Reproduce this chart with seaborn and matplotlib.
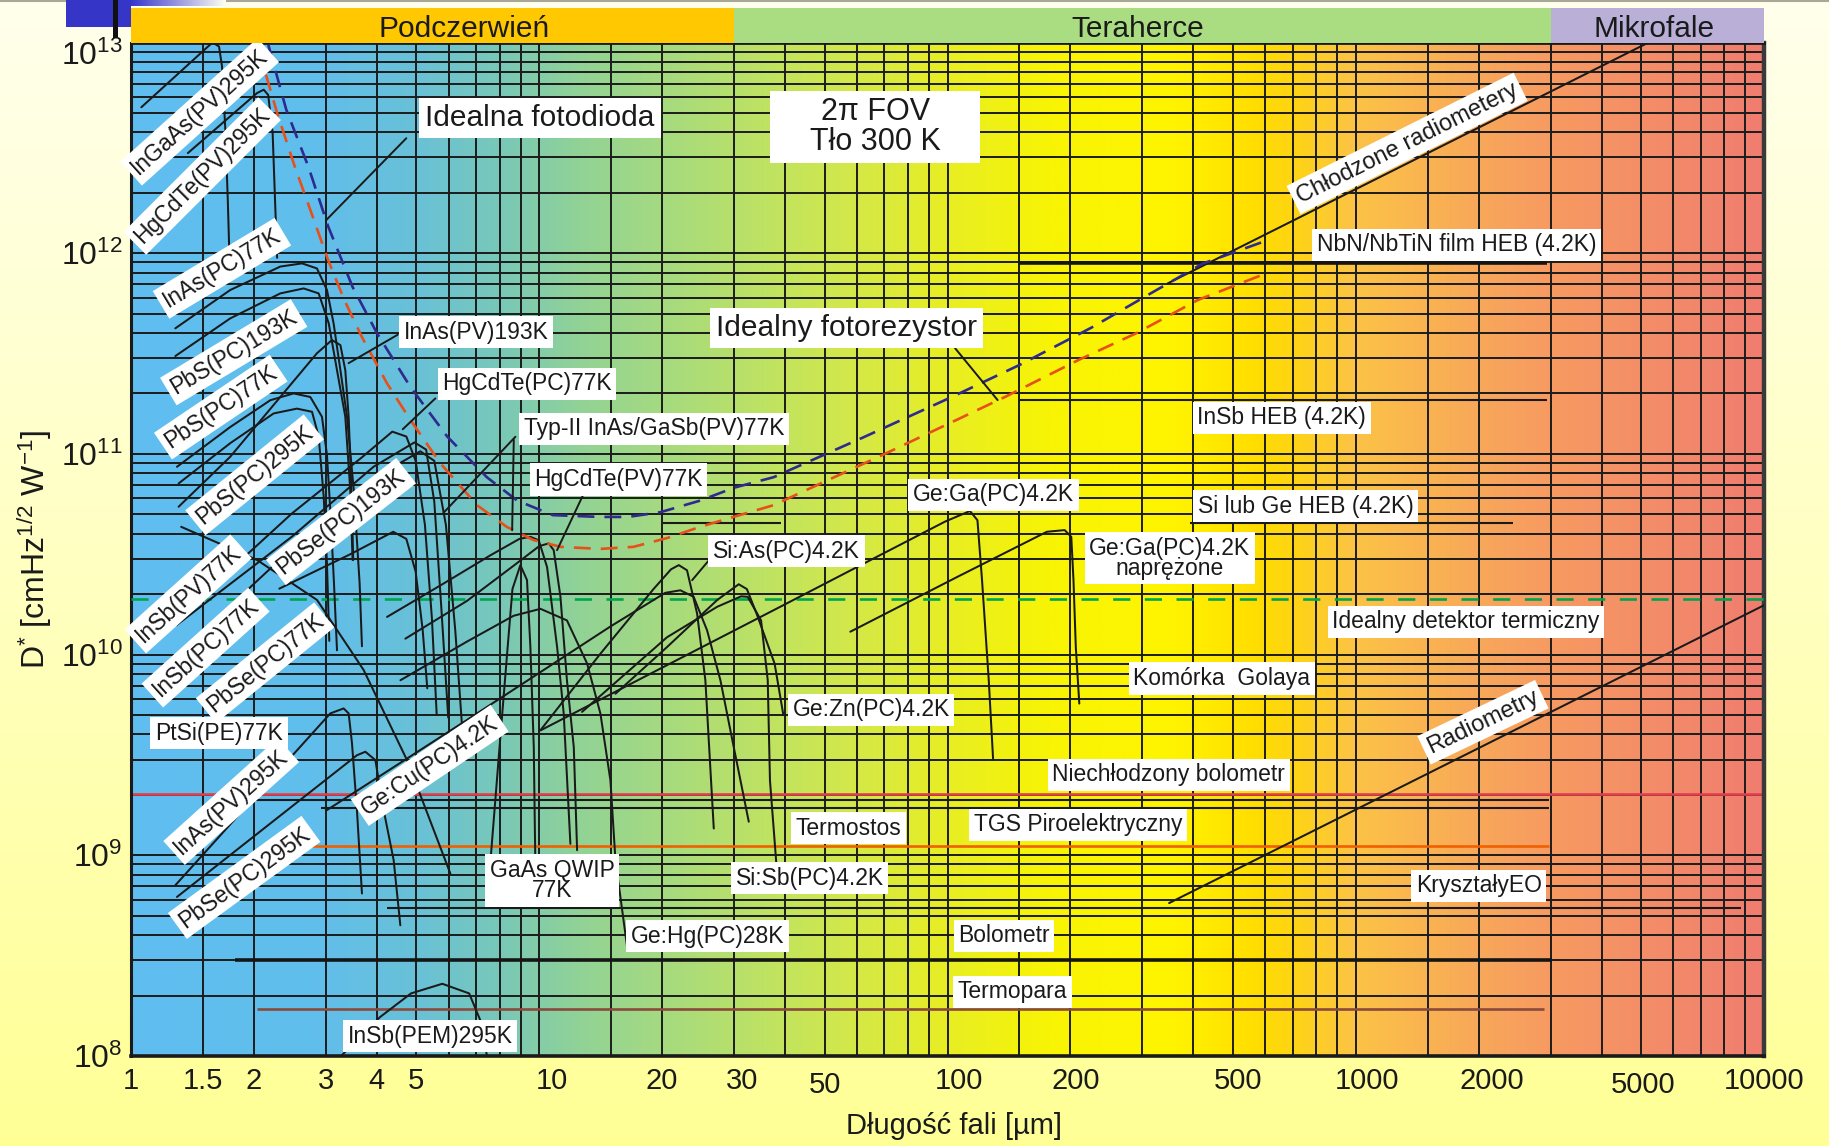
import numpy as np
import pandas as pd
import matplotlib
matplotlib.use("Agg")
import matplotlib.pyplot as plt
from matplotlib.patches import Rectangle
from matplotlib.lines import Line2D
from matplotlib.ticker import FixedLocator, FixedFormatter, NullFormatter
import matplotlib.transforms as mtransforms
import seaborn as sns

# ------------------------------------------------------------------
# Detector curves: (wavelength [um], D* [cm Hz^1/2 W^-1])
# ------------------------------------------------------------------
INGAAS_PV_295K = [(1.06, 5.33e12), (1.544, 1.07e13), (1.585, 1.12e13), (1.643, 1.07e13),
                  (1.671, 8.51e12), (1.704, 3.97e12), (1.726, 1.85e12), (1.749, 7.35e11)]
HGCDTE_PV_295K = [(1.378, 3.15e12), (2.035, 6.27e12), (2.114, 6.52e12), (2.168, 6.14e12),
                  (2.223, 3.97e12), (2.253, 1.85e12), (2.28, 9.48e11)]
INAS_PC_77K = [(1.284, 4.22e11), (1.75, 6.55e11), (2.321, 8.57e11), (2.624, 8.89e11),
               (2.854, 8.39e11), (3.02, 6.55e11), (3.135, 4.47e11), (3.258, 2.61e11),
               (3.382, 1.53e11), (3.513, 6.61e10), (3.631, 2.26e10), (3.679, 1.10e10)]
PBS_PC_193K = [(1.284, 3.07e11), (1.75, 4.73e11), (2.321, 6.30e11), (2.648, 6.67e11),
               (2.882, 6.30e11), (3.05, 4.47e11), (3.196, 2.61e11), (3.349, 1.53e11),
               (3.444, 6.61e10), (3.49, 2.96e10)]
INAS_PV_193K = [(1.308, 5.45e10), (1.75, 9.67e10), (2.321, 1.92e11), (2.854, 3.17e11),
                (3.106, 3.69e11), (3.258, 3.48e11), (3.349, 2.61e11), (3.413, 1.53e11),
                (3.467, 6.61e10), (3.502, 2.96e10)]
PBS_PC_77K = [(1.296, 8.62e10), (1.75, 1.36e11), (2.194, 1.85e11), (2.502, 2.00e11),
              (2.749, 1.92e11), (2.936, 1.53e11), (3.02, 9.87e10), (3.081, 5.05e10),
              (3.142, 2.26e10), (3.196, 1.05e10)]
PBS_PC_295K = [(1.308, 7.12e10), (1.75, 1.13e11), (2.236, 1.59e11), (2.55, 1.68e11),
               (2.776, 1.62e11), (2.882, 1.22e11), (2.965, 6.11e10), (3.02, 2.84e10),
               (3.06, 1.17e10)]
INSB_PV_77K = [(1.31, 1.54e10), (2.479, 5.05e10), (3.679, 9.61e10), (4.365, 1.29e11),
               (4.725, 1.22e11), (4.98, 9.23e10), (5.248, 4.42e10), (5.459, 1.51e10),
               (5.607, 5.05e9)]
INSB_PC_77K = [(1.292, 1.40e10), (2.479, 3.87e10), (3.929, 8.63e10), (4.947, 1.14e11),
               (5.283, 1.05e11), (5.532, 5.78e10), (5.754, 1.73e10), (5.985, 4.85e9)]
PBSE_PC_77K = [(1.31, 1.01e10), (2.479, 3.38e10), (3.929, 7.55e10), (5.112, 1.03e11),
               (5.532, 9.23e10), (5.907, 4.42e10), (6.227, 1.32e10), (6.478, 4.25e9)]
PBSE_PC_193K = [(2.308, 2.13e10), (3.444, 3.16e10), (4.388, 4.09e10), (4.725, 3.77e10),
                (4.98, 2.59e10), (5.181, 1.33e10), (5.318, 6.79e9)]
HGCDTE_PC_77K = [(4.238, 1.54e10), (5.832, 2.26e10), (7.586, 3.12e10), (8.942, 3.77e10),
                 (9.512, 3.86e10), (9.97, 3.71e10), (10.45, 2.73e10), (11.06, 1.09e10),
                 (11.48, 5.08e9), (11.92, 1.14e9)]
HGCDTE_PV_77K = [(4.699, 1.20e10), (6.65, 1.85e10), (8.651, 2.77e10), (10.0, 3.47e10),
                 (10.55, 3.58e10), (10.85, 3.31e10), (11.27, 1.94e10), (11.69, 7.45e9),
                 (12.15, 3.46e9), (12.38, 1.06e9)]
GAAS_QWIP_77K = [(7.586, 9.10e8), (7.995, 3.47e9), (8.342, 1.01e10), (8.597, 2.12e10),
                 (8.989, 2.79e10), (9.333, 2.35e10), (9.512, 1.09e10), (9.696, 3.46e9),
                 (9.779, 9.48e8)]
GEHG_PC_28K = [(4.571, 7.45e9), (6.65, 1.16e10), (8.651, 1.56e10), (10.07, 1.69e10),
               (11.69, 1.48e10), (13.1, 9.02e9), (14.12, 5.08e9), (14.94, 2.36e9),
               (15.37, 9.43e8), (16.46, 3.36e8)]
GECU_PC_4K = [(3.02, 1.68e9), (6.65, 4.72e9), (14.94, 1.38e10), (20.35, 2.03e10),
              (22.16, 2.09e10), (23.89, 1.94e10), (25.77, 1.32e10), (27.78, 7.45e9),
              (29.95, 3.46e9), (32.6, 1.47e9)]
SIAS_PC_4K = [(10.07, 4.20e9), (14.12, 1.01e10), (19.05, 2.12e10), (21.03, 2.66e10),
              (21.97, 2.79e10), (23.01, 2.63e10), (24.36, 1.60e10), (25.52, 7.45e9),
              (26.76, 1.36e9)]
GEZN_PC_4K = [(15.37, 6.38e9), (20.56, 1.09e10), (27.28, 1.87e10), (30.8, 2.24e10),
              (32.25, 2.12e10), (34.07, 1.60e10), (37.71, 9.02e9), (39.63, 4.99e9)]
SISB_PC_4K = [(12.73, 5.18e9), (20.56, 1.22e10), (27.28, 1.73e10), (31.21, 1.95e10),
              (32.4, 1.94e10), (34.94, 1.48e10), (36.28, 7.45e9), (36.74, 2.36e9),
              (38.14, 8.75e8)]
GEGA_PC_4K = [(10.07, 4.19e9), (38.93, 1.73e10), (66.51, 3.04e10), (98.7, 4.60e10),
              (113.5, 5.19e10), (118.4, 4.67e10), (121.5, 2.35e10), (126.2, 7.45e9),
              (129.3, 3.04e9)]
GEGA_STRESSED_4K = [(57.81, 1.30e10), (105.8, 2.44e10), (175.1, 4.09e10), (193.6, 4.17e10),
                    (201.0, 3.86e10), (203.5, 2.35e10), (206.2, 1.09e10), (210.3, 5.70e9)]
INAS_PV_295K = [(1.284, 7.09e8), (3.077, 5.09e9), (3.318, 5.39e9), (3.413, 5.09e9),
                (3.478, 3.61e9), (3.576, 1.68e9), (3.679, 6.45e8)]
PBSE_PC_295K = [(1.296, 6.20e8), (3.576, 3.15e9), (3.75, 3.28e9), (3.968, 2.98e9),
                (4.158, 1.68e9), (4.399, 9.46e8), (4.568, 4.48e8)]
PTSI_PE_77K = [(1.327, 4.33e10), (2.035, 2.96e10), (2.856, 1.87e10), (3.715, 8.37e9),
               (4.743, 2.98e9), (6.058, 8.10e8)]
INSB_PEM_295K = [(3.286, 1.01e8), (4.069, 1.56e8), (4.85, 2.05e8), (5.788, 2.29e8),
                 (6.735, 2.05e8), (7.168, 1.51e8), (7.441, 1.01e8)]

# Straight-line detectors
COOLED_RADIOMETERS = [(346, 7.06e11), (5212, 1.12e13)]
RADIOMETERS = [(349, 5.78e8), (10000, 1.76e10)]

# Background-limited ideal detectors (2pi FOV, 300 K)
IDEAL_PHOTODIODE = [(2.17, 1.09e13), (2.40, 5.19e12), (2.72, 2.69e12), (3.04, 1.36e12),
                    (3.49, 6.78e11), (4.01, 3.97e11), (4.83, 2.16e11), (5.95, 1.22e11),
                    (7.44, 7.65e10), (8.83, 5.85e10), (10.8, 4.95e10), (14.1, 4.85e10),
                    (16.5, 4.85e10), (19.8, 5.12e10), (24.8, 5.85e10), (30.0, 6.78e10),
                    (37.5, 7.65e10), (62.3, 1.21e11), (103, 1.93e11), (150, 2.77e11),
                    (225, 4.25e11), (320, 6.43e11), (422, 8.87e11), (587, 1.13e12)]
IDEAL_PHOTORESISTOR = [(2.14, 7.76e12), (2.28, 4.99e12), (2.52, 2.69e12), (2.79, 1.51e12),
                       (3.04, 9.23e11), (3.33, 5.85e11), (3.68, 3.81e11), (4.24, 2.24e11),
                       (4.83, 1.48e11), (5.72, 8.99e10), (7.04, 5.55e10), (8.32, 4.33e10),
                       (9.68, 3.72e10), (11.3, 3.44e10), (14.1, 3.36e10), (17.0, 3.44e10),
                       (20.6, 3.81e10), (24.8, 4.33e10), (29.9, 4.85e10), (37.5, 5.55e10),
                       (71.0, 1.01e11), (139, 1.93e11), (209, 2.93e11), (290, 3.99e11),
                       (411, 5.85e11), (587, 7.76e11)]
IDEAL_THERMAL_D = 1.9e10

# Flat-response (thermal and HEB) detectors: level and spectral span
LEVEL_NAMES = ["NbN/NbTiN HEB", "InSb HEB", "Si/Ge HEB", "Si/Ge HEB short",
               "Niechlodzony bolometr", "bolometr", "Termostos", "TGS",
               "Krysztaly EO", "Bolometr", "Termopara"]
LEVEL_D = [8.9e11, 1.85e11, 4.5e10, 4.5e10, 2.03e9, 1.89e9, 1.72e9, 1.11e9, 5.47e8, 3.0e8, 1.71e8]
LEVEL_WL_FROM = [150, 150, 393, 20.1, 1, 1.98, 2.92, 2.65, 4.23, 1.80, 2.04]
LEVEL_WL_TO = [2944, 2944, 2432, 39, 10000, 2980, 2980, 2980, 8790, 3030, 2897]

# Spectral bands on top
BAND_NAMES = ["Podczerwień", "Teraherce", "Mikrofale"]
BAND_EDGES = [1, 30, 3000, 10000]

XTICKS = [1, 1.5, 2, 3, 4, 5, 10, 20, 30, 50, 100, 200, 500, 1000, 2000, 5000, 10000]
XTICK_LABELS = ["1", "1.5", "2", "3", "4", "5", "10", "20", "30", "50", "100", "200",
                "500", "1000", "2000", "5000", "10000"]
YTICKS = [1e8, 1e9, 1e10, 1e11, 1e12, 1e13]
YTICK_LABELS = [r"$10^{8}$", r"$10^{9}$", r"$10^{10}$", r"$10^{11}$", r"$10^{12}$", r"$10^{13}$"]

DETECTOR_CURVES = {
    "InGaAs(PV)295K": INGAAS_PV_295K, "HgCdTe(PV)295K": HGCDTE_PV_295K,
    "InAs(PC)77K": INAS_PC_77K, "PbS(PC)193K": PBS_PC_193K, "InAs(PV)193K": INAS_PV_193K,
    "PbS(PC)77K": PBS_PC_77K, "PbS(PC)295K": PBS_PC_295K, "InSb(PV)77K": INSB_PV_77K,
    "InSb(PC)77K": INSB_PC_77K, "PbSe(PC)77K": PBSE_PC_77K, "PbSe(PC)193K": PBSE_PC_193K,
    "HgCdTe(PC)77K": HGCDTE_PC_77K, "HgCdTe(PV)77K": HGCDTE_PV_77K,
    "GaAs QWIP 77K": GAAS_QWIP_77K, "Ge:Hg(PC)28K": GEHG_PC_28K, "Ge:Cu(PC)4.2K": GECU_PC_4K,
    "Si:As(PC)4.2K": SIAS_PC_4K, "Ge:Zn(PC)4.2K": GEZN_PC_4K, "Si:Sb(PC)4.2K": SISB_PC_4K,
    "Ge:Ga(PC)4.2K": GEGA_PC_4K, "Ge:Ga(PC)4.2K stressed": GEGA_STRESSED_4K,
    "InAs(PV)295K": INAS_PV_295K, "PbSe(PC)295K": PBSE_PC_295K, "PtSi(PE)77K": PTSI_PE_77K,
    "InSb(PEM)295K": INSB_PEM_295K, "Chlodzone radiometery": COOLED_RADIOMETERS,
    "Radiometry": RADIOMETERS,
}

# ------------------------------------------------------------------
sns.set_theme(style="white")
FONT = ["Liberation Sans", "DejaVu Sans"]
plt.rcParams["font.family"] = FONT
plt.rcParams["mathtext.fontset"] = "custom"
plt.rcParams["mathtext.rm"] = "Liberation Sans"
plt.rcParams["mathtext.it"] = "Liberation Sans:italic"
plt.rcParams["mathtext.bf"] = "Liberation Sans:bold"
INK = "#1a1a1a"

W, H = 1829, 1146
fig = plt.figure(figsize=(W / 100, H / 100), dpi=100)

# pale yellow page behind everything
page = fig.add_axes([0, 0, 1, 1], zorder=-10)
page.axis("off")
t = np.linspace(0, 1, 256)[:, None]
top_c = np.array([255, 255, 236]) / 255
bot_c = np.array([255, 255, 150]) / 255
page.imshow((top_c * (1 - t) + bot_c * t)[:, None, :], aspect="auto", extent=[0, 1, 0, 1])

L, R = 131 / W, 1764 / W
B, T = 1 - 1056 / H, 1 - 43 / H
rect = [L, B, R - L, T - B]

# spectral colour wash inside the plotting area (position = log10 wavelength)
wash = fig.add_axes(rect, zorder=0)
wash.axis("off")
stop_u = [0.0, 0.45, 0.7, 0.9, 1.1, 1.3, 1.5, 1.75, 2.0, 2.25, 2.55, 2.75, 2.85, 3.0, 3.3, 3.47, 4.0]
stop_rgb = [(95, 190, 240), (97, 190, 236), (105, 193, 215), (120, 200, 185), (145, 210, 150),
            (165, 218, 128), (185, 225, 105), (210, 232, 75), (232, 238, 35), (248, 244, 5),
            (255, 244, 0), (255, 222, 0), (254, 212, 20), (252, 195, 70), (248, 168, 90),
            (247, 155, 97), (240, 125, 112)]
uu = np.linspace(0, 4, 1000)
cols = np.stack([np.interp(uu, stop_u, [c[i] for c in stop_rgb]) for i in range(3)], axis=-1) / 255
wash.imshow(cols[None, :, :], aspect="auto", extent=[0, 1, 0, 1])
wash.set_xlim(0, 1)
wash.set_ylim(0, 1)

ax = fig.add_axes(rect, zorder=1)
ax.patch.set_alpha(0)
ax.set_xscale("log")
ax.set_yscale("log")
ax.set_xlim(1, 1e4)
ax.set_ylim(1e8, 1.114e13)

xgrid = [m * 10 ** e for e in range(0, 4) for m in (1, 1.5, 2, 3, 4, 5, 6, 7, 8, 9)] + [1e4]
ygrid = [m * 10 ** e for e in range(8, 13) for m in range(1, 10)] + [1e13]
ax.xaxis.set_major_locator(FixedLocator(XTICKS))
ax.xaxis.set_major_formatter(FixedFormatter(XTICK_LABELS))
ax.xaxis.set_minor_locator(FixedLocator(xgrid))
ax.xaxis.set_minor_formatter(NullFormatter())
ax.yaxis.set_major_locator(FixedLocator(YTICKS))
ax.yaxis.set_major_formatter(FixedFormatter(YTICK_LABELS))
ax.yaxis.set_minor_locator(FixedLocator(ygrid))
ax.yaxis.set_minor_formatter(NullFormatter())
ax.grid(which="both", color="#1c1c1c", lw=1.4)
ax.set_axisbelow(True)
ax.tick_params(which="both", length=0)
ax.tick_params(axis="x", labelsize=21, pad=8, labelcolor=INK)
ax.tick_params(axis="y", labelsize=23, pad=6, labelcolor=INK)
for side, lw, c in (("left", 2.2, INK), ("bottom", 2.6, INK), ("right", 3.2, "#3a3a3a"), ("top", 2.0, INK)):
    ax.spines[side].set_visible(True)
    ax.spines[side].set_linewidth(lw)
    ax.spines[side].set_color(c)

# some wavelength labels sit slightly off their grid line
label_shift_px = {"10": (13, 0), "30": (8, 0), "50": (0, -4), "100": (11, 0), "200": (5, 0),
                  "500": (5, 0), "1000": (11, 0), "2000": (13, 0), "5000": (2, -4)}
fig.canvas.draw()
for lab in ax.get_xticklabels():
    dx, dy = label_shift_px.get(lab.get_text(), (0, 0))
    if dx or dy:
        lab.set_transform(lab.get_transform() +
                          mtransforms.ScaledTranslation(dx / 100, dy / 100, fig.dpi_scale_trans))

# flat-response detector levels
level_style = {
    "Niechlodzony bolometr": dict(color="#E0404E", lw=1.9),
    "TGS": dict(color="#F06000", lw=1.9),
    "Termopara": dict(color="#8A4A3C", lw=1.9),
    "Bolometr": dict(color="#151515", lw=2.6),
    "NbN/NbTiN HEB": dict(color="#151515", lw=2.6),
}
for name, d, a, b in zip(LEVEL_NAMES, LEVEL_D, LEVEL_WL_FROM, LEVEL_WL_TO):
    st = level_style.get(name, dict(color=INK, lw=1.5))
    ax.hlines(d, a, b, zorder=2, **st)
ax.hlines(IDEAL_THERMAL_D, 1, 1e4, color="#00A550", lw=1.9, linestyles=(0, (6.5, 5.5)), zorder=3)

# detector curves
rows = [(name, wl, d) for name, pts in DETECTOR_CURVES.items() for wl, d in pts]
curves = pd.DataFrame(rows, columns=["detector", "wl", "d"])
sns.lineplot(data=curves, x="wl", y="d", units="detector", estimator=None, sort=False,
             color=INK, lw=1.45, legend=False, ax=ax, zorder=3)

ideal_pd = pd.DataFrame(IDEAL_PHOTODIODE, columns=["wl", "d"])
ideal_pr = pd.DataFrame(IDEAL_PHOTORESISTOR, columns=["wl", "d"])
sns.lineplot(data=ideal_pd, x="wl", y="d", sort=False, color="#2E2A8E", lw=1.9,
             linestyle=(0, (6.4, 3.8)), ax=ax, zorder=4)
sns.lineplot(data=ideal_pr, x="wl", y="d", sort=False, color="#E8501A", lw=1.9,
             linestyle=(0, (6.4, 3.8)), ax=ax, zorder=4)
ax.set_xlabel("")
ax.set_ylabel("")

# pointer lines from the captions (axes fractions)
pointers = [((0.1686, 0.906), (0.1196, 0.8253)),
            ((0.1633, 0.712), (0.1332, 0.6839)),
            ((0.1864, 0.6492), (0.1664, 0.6187)),
            ((0.2354, 0.6113), (0.1914, 0.5363)),
            ((0.2344, 0.6083), (0.2334, 0.5191)),
            ((0.2783, 0.5588), (0.2609, 0.4993)),
            ((0.3548, 0.4911), (0.3436, 0.4697)),
            ((0.5047, 0.6986), (0.5307, 0.6475))]
for (x0, y0), (x1, y1) in pointers:
    ax.plot([x0, x1], [y0, y1], transform=ax.transAxes, color=INK, lw=1.4, zorder=4)

BOX = dict(boxstyle="square,pad=0.2", fc="white", ec="none")


def caption(text, fx, fy, size=16.5, rot=0, box=BOX, **kw):
    ax.text(fx, fy, text, transform=ax.transAxes, fontsize=size, rotation=rot,
            rotation_mode="anchor", ha="center", va="center", color=INK,
            bbox=box, zorder=6, **kw)


caption("Idealna fotodioda", 0.2504, 0.9263, size=21.5)
ax.add_patch(Rectangle((0.3914, 0.8813), 0.1286, 0.0715, transform=ax.transAxes,
                       fc="white", ec="none", zorder=5.5))
caption("2π FOV\nTło 300 K", 0.4557, 0.917, size=22, linespacing=1.0, box=None)
caption("Idealny fotorezystor", 0.4379, 0.7189, size=21.5)
caption("InAs(PV)193K", 0.2114, 0.7143)
caption("HgCdTe(PC)77K", 0.2425, 0.6636)
caption("Typ-II InAs/GaSb(PV)77K", 0.3204, 0.6192)
caption("HgCdTe(PV)77K", 0.2986, 0.5691)
caption("Ge:Ga(PC)4.2K", 0.5282, 0.5541)
caption("Si:As(PC)4.2K", 0.4014, 0.4983)
caption("Ge:Ga(PC)4.2K\nnaprężone", 0.6361, 0.4914, linespacing=0.85)
caption("NbN/NbTiN film HEB (4.2K)", 0.8118, 0.8007)
caption("InSb HEB (4.2K)", 0.7046, 0.6302)
caption("Si lub Ge HEB (4.2K)", 0.7193, 0.5426)
caption("Idealny detektor termiczny", 0.8175, 0.4286)
caption("Komórka  Golaya", 0.6679, 0.3727)
caption("Ge:Zn(PC)4.2K", 0.4532, 0.3416)
caption("Niechłodzony bolometr", 0.6354, 0.2776)
caption("Termostos", 0.4396, 0.2247)
caption("TGS Piroelektryczny", 0.58, 0.2281)
caption("GaAs QWIP\n77K", 0.2579, 0.1734, linespacing=0.85)
caption("Si:Sb(PC)4.2K", 0.4157, 0.1757)
caption("KryształyEO", 0.8254, 0.1682)
caption("Ge:Hg(PC)28K", 0.3529, 0.1181)
caption("Bolometr", 0.5346, 0.1187)
caption("Termopara", 0.5396, 0.0634)
caption("InSb(PEM)295K", 0.1832, 0.0196)
caption("PtSi(PE)77K", 0.0539, 0.3185)

caption("InGaAs(PV)295K", 0.0421, 0.932, rot=42)
caption("HgCdTe(PV)295K", 0.0436, 0.8687, rot=45)
caption("InAs(PC)77K", 0.0557, 0.7776, rot=31)
caption("PbS(PC)193K", 0.0629, 0.6947, rot=31)
caption("PbS(PC)77K", 0.055, 0.6406, rot=34)
caption("PbS(PC)295K", 0.0757, 0.5737, rot=39)
caption("PbSe(PC)193K", 0.1286, 0.5276, rot=38)
caption("InSb(PV)77K", 0.035, 0.4562, rot=42)
caption("InSb(PC)77K", 0.0457, 0.4032, rot=42)
caption("PbSe(PC)77K", 0.0821, 0.3882, rot=39)
caption("InAs(PV)295K", 0.0614, 0.2512, rot=42)
caption("PbSe(PC)295K", 0.0693, 0.1763, rot=36)
caption("Ge:Cu(PC)4.2K", 0.1829, 0.2869, rot=34)
caption("Chłodzone radiometery", 0.7814, 0.9009, rot=26.5, size=17)
caption("Radiometry", 0.8279, 0.3295, rot=25.5, size=17)

# axis titles
ax.text(-0.0588, 0.5, r"D$^{*}$ [cmHz$^{1/2}$ W$^{-1}$]", transform=ax.transAxes,
        rotation=90, ha="center", va="center", fontsize=23, color=INK)
ax.text(0.504, -0.069, "Długość fali [µm]", transform=ax.transAxes,
        ha="center", va="center", fontsize=21, color=INK)

# spectral band strip above the plot
band = fig.add_axes([L, 1 - 43 / H, R - L, 35 / H], zorder=2)
band.set_xscale("log")
band.set_xlim(1, 1e4)
band.set_ylim(0, 1)
band.axis("off")
band_colors = ["#FFC800", "#AADC82", "#B9AFD7"]
band_label_x = [6.56, 292, 5385]
for i, name in enumerate(BAND_NAMES):
    band.axvspan(BAND_EDGES[i], BAND_EDGES[i + 1], color=band_colors[i], lw=0)
    band.text(band_label_x[i], 0.4, name, ha="center", va="center", fontsize=21.5, color=INK)

# slide ornaments at the top-left corner
fig.add_artist(Line2D([0, 1], [1 - 1 / H, 1 - 1 / H], transform=fig.transFigure,
                      color="#a8a898", lw=1.5))
strip = fig.add_axes([131 / W, 1 - 6 / H, 95 / W, 6 / H], zorder=3)
strip.axis("off")
s = np.linspace(0, 1, 200)[None, :, None]
strip.imshow(np.array([0.21, 0.21, 0.8]) * (1 - s) + np.array([1.0, 1.0, 0.95]) * s,
             aspect="auto", extent=[0, 1, 0, 1])
fig.add_artist(Rectangle((66 / W, 1 - 27 / H), 65 / W, 27 / H, transform=fig.transFigure,
                         fc="#3535C8", ec="none", zorder=4))
fig.add_artist(Rectangle((113 / W, 1 - 38 / H), 5 / W, 38 / H, transform=fig.transFigure,
                         fc="#111111", ec="none", zorder=5))

fig.savefig("out.png", dpi=100)
